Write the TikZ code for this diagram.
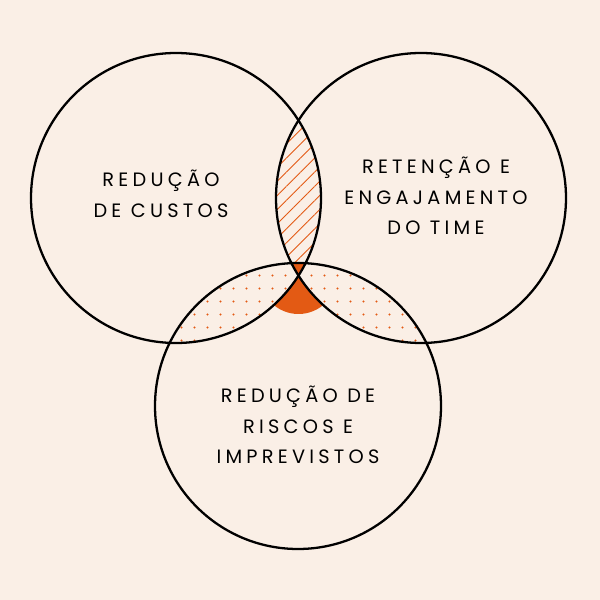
\documentclass[tikz,border=0pt]{standalone}
\usepackage{fontspec}
\setmainfont{Poppins}[LetterSpace=22]
\usetikzlibrary{patterns.meta}
\definecolor{paper}{HTML}{FAEFE6}
\definecolor{rust}{HTML}{E35A14}
\tikzset{
  ring/.style={draw=black, line width=1.3pt},
  label/.style={align=center, font=\fontsize{11}{17.5}\selectfont},
}
\begin{document}
\begin{tikzpicture}
    % Background
    \fill[paper] (0,0) rectangle (12,12);
    \useasboundingbox (0,0) rectangle (12,12);
    \def\circA{(3.52,8.04) circle (2.9)}
    \def\circB{(8.42,8.04) circle (2.9)}
    \def\circC{(5.96,3.88) circle (2.86)}
    \coordinate (X) at (5.97,6.49);

    % Solid cap below the crossing
    \begin{scope}
        \clip \circC;
        \fill[rust] (X) circle (0.77);
    \end{scope}
    % Dotted overlaps
    \begin{scope}
        \clip \circA;
        \fill[paper] \circC;
        \fill[pattern={Dots[radius=0.7pt, distance=0.26cm, angle=0]}, pattern color=rust] \circC;
    \end{scope}
    \begin{scope}
        \clip \circB;
        \fill[paper] \circC;
        \fill[pattern={Dots[radius=0.7pt, distance=0.26cm, angle=0]}, pattern color=rust] \circC;
    \end{scope}
    % Hatched overlap
    \begin{scope}
        \clip \circA;
        \fill[paper] \circB;
        \fill[pattern={Lines[distance=0.2cm, angle=45, line width=0.5pt]}, pattern color=rust] \circB;
    \end{scope}
    % Centre
    \begin{scope}
        \clip \circA;
        \clip \circB;
        \fill[rust] \circC;
    \end{scope}

    % Circles
    \draw[ring] \circA;
    \draw[ring] \circB;
    \draw[ring] \circC;

    % Labels
    \node[label] (custos) at (3.22,8.12) {REDUÇÃO\\DE CUSTOS};
    \node[label] (time) at (8.72,8.08) {RETENÇÃO E\\ENGAJAMENTO\\DO TIME};
    \node[label] (riscos) at (5.96,3.5) {REDUÇÃO DE\\RISCOS E\\IMPREVISTOS};
\end{tikzpicture}
\end{document}
